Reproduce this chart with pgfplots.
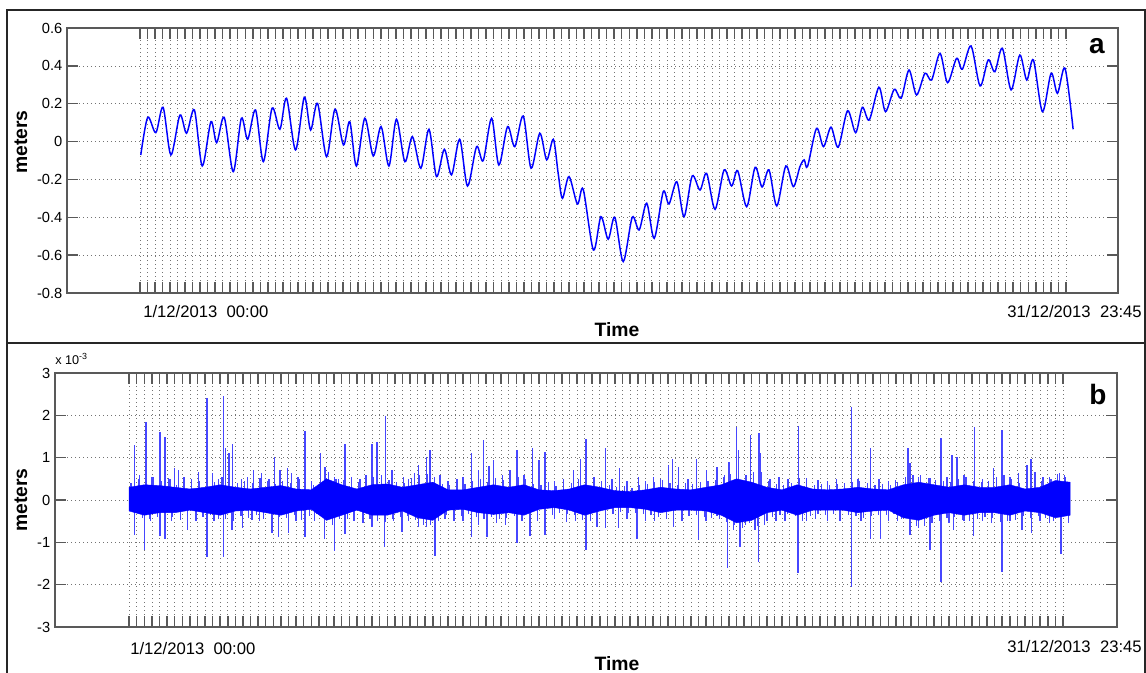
\documentclass[border=0pt]{standalone}
\usepackage{pgfplots}
\pgfplotsset{compat=1.18}
\usepackage{fontspec}
\setmainfont{Liberation Sans}
\definecolor{spk}{RGB}{70,70,255}
\begin{document}
\begin{tikzpicture}
\useasboundingbox (0,0) rectangle (859.5pt,504.75pt);
\pgfplotsset{
 panel/.style={
  scale only axis,
  anchor=south west,
  axis line style={draw=black!65, line width=0.9pt},
  tick style={draw=black!65, line width=1.1pt},
  major tick length=8pt,
  tick align=inside,
  xtick={0,0.25,...,30.75},
  xticklabels={},
  grid=major,
  major grid style={draw=black!55, line width=0.5pt, dash pattern=on 0.6pt off 2.4pt},
  yticklabel style={font=\fontsize{11}{13}\selectfont, text=black},
  clip=true,
 }
}
% frames
\draw[black!85, line width=1.1pt] (5.25pt,247.5pt) rectangle (858.75pt,497.25pt);
\draw[black!85, line width=1.1pt] (5.25pt,0pt) -- (5.25pt,247.5pt) -- (858.75pt,247.5pt) -- (858.75pt,0pt);

% ---------------- panel a
\begin{axis}[panel,
  at={(50.25pt,285pt)},
  width=788.25pt, height=198.75pt,
  xmin=-2.42, xmax=32.48, ymin=-0.8, ymax=0.6,
  ytick={-0.8,-0.6,-0.4,-0.2,0,0.2,0.4,0.6},
  yticklabels={-0.8,-0.6,-0.4,-0.2,0,0.2,0.4,0.6},
]
\addplot[blue, line width=1.1pt, smooth, no marks] coordinates {
(0.03,-0.071) (0.26,0.128) (0.53,0.047) (0.77,0.181) (1.03,-0.071) (1.33,0.140) (1.55,0.044) (1.81,0.167) (2.07,-0.129) (2.36,0.105) (2.55,-0.006) (2.80,0.128) (3.10,-0.159) (3.37,0.123) (3.58,0.012) (3.84,0.167) (4.10,-0.106) (4.39,0.176) (4.65,0.065) (4.87,0.229) (5.17,-0.044) (5.46,0.234) (5.67,0.061) (5.90,0.202) (6.20,-0.080) (6.48,0.171) (6.76,-0.018) (6.97,0.105) (7.19,-0.129) (7.47,0.123) (7.75,-0.076) (8.01,0.079) (8.27,-0.129) (8.52,0.118) (8.80,-0.106) (9.05,0.026) (9.33,-0.141) (9.60,0.065) (9.85,-0.185) (10.11,-0.041) (10.35,-0.176) (10.62,0.012) (10.88,-0.235) (11.18,-0.027) (11.40,-0.101) (11.68,0.123) (11.92,-0.124) (12.21,0.079) (12.45,-0.027) (12.73,0.135) (12.99,-0.141) (13.28,0.044) (13.51,-0.097) (13.73,0.012) (13.89,-0.168) (14.03,-0.300) (14.25,-0.185) (14.53,-0.330) (14.72,-0.252) (15.06,-0.573) (15.31,-0.397) (15.55,-0.516) (15.77,-0.400) (16.05,-0.634) (16.35,-0.400) (16.58,-0.467) (16.83,-0.326) (17.08,-0.511) (17.38,-0.265) (17.57,-0.330) (17.83,-0.212) (18.07,-0.397) (18.34,-0.182) (18.60,-0.256) (18.82,-0.168) (19.10,-0.358) (19.40,-0.150) (19.65,-0.235) (19.85,-0.154) (20.15,-0.344) (20.43,-0.136) (20.66,-0.240) (20.89,-0.150) (21.15,-0.340) (21.45,-0.129) (21.70,-0.238) (21.92,-0.132) (22.06,-0.097) (22.17,-0.132) (22.47,0.070) (22.70,-0.027) (22.95,0.076) (23.19,-0.030) (23.50,0.163) (23.77,0.047) (23.99,0.181) (24.22,0.114) (24.54,0.287) (24.76,0.158) (25.05,0.276) (25.28,0.229) (25.54,0.378) (25.79,0.246) (26.07,0.361) (26.29,0.325) (26.57,0.466) (26.82,0.311) (27.12,0.440) (27.31,0.382) (27.60,0.505) (27.90,0.294) (28.17,0.431) (28.39,0.369) (28.64,0.493) (28.93,0.273) (29.22,0.457) (29.45,0.325) (29.67,0.431) (29.97,0.158) (30.26,0.361) (30.47,0.255) (30.72,0.387) (30.99,0.065)
};
\end{axis}

% ---------------- panel b
\begin{axis}[panel,
  at={(41.25pt,34.5pt)},
  width=796.5pt, height=190.5pt,
  xmin=-2.44, xmax=32.53, ymin=-3, ymax=3,
  ytick={-3,-2,-1,0,1,2,3},
  yticklabels={-3,-2,-1,0,1,2,3},
]
% small fluctuations, 8 per day
\addplot[ycomb, spk, line width=0.9pt, no marks] table[row sep=\\, header=false, x expr=\coordindex*0.125+0.06, y index=0] {
0.40\\ -0.35\\ 0.50\\ -0.42\\ 0.38\\ -0.45\\ 0.55\\ -0.40\\
0.45\\ -0.38\\ 0.52\\ -0.40\\ 0.36\\ -0.48\\ 0.42\\ -0.35\\
0.38\\ -0.33\\ 0.45\\ -0.40\\ 0.50\\ -0.36\\ 0.42\\ -0.45\\
0.55\\ -0.45\\ 0.48\\ -0.50\\ 0.40\\ -0.38\\ 0.45\\ -0.42\\
0.40\\ -0.36\\ 0.52\\ -0.45\\ 0.44\\ -0.50\\ 0.38\\ -0.40\\
0.46\\ -0.42\\ 0.40\\ -0.36\\ 0.55\\ -0.48\\ 0.42\\ -0.38\\
0.35\\ -0.32\\ 0.60\\ -0.55\\ 0.65\\ -0.58\\ 0.50\\ -0.45\\
0.48\\ -0.44\\ 0.40\\ -0.36\\ 0.42\\ -0.38\\ 0.50\\ -0.46\\
0.55\\ -0.50\\ 0.60\\ -0.52\\ 0.48\\ -0.45\\ 0.42\\ -0.40\\
0.40\\ -0.38\\ 0.52\\ -0.48\\ 0.60\\ -0.58\\ 0.62\\ -0.60\\
0.55\\ -0.50\\ 0.38\\ -0.35\\ 0.35\\ -0.32\\ 0.40\\ -0.38\\
0.38\\ -0.34\\ 0.45\\ -0.40\\ 0.50\\ -0.44\\ 0.42\\ -0.40\\
0.52\\ -0.45\\ 0.48\\ -0.42\\ 0.40\\ -0.38\\ 0.55\\ -0.50\\
0.50\\ -0.46\\ 0.38\\ -0.32\\ 0.35\\ -0.30\\ 0.42\\ -0.36\\
0.32\\ -0.30\\ 0.36\\ -0.32\\ 0.40\\ -0.36\\ 0.50\\ -0.48\\
0.55\\ -0.50\\ 0.42\\ -0.38\\ 0.45\\ -0.40\\ 0.36\\ -0.32\\
0.30\\ -0.28\\ 0.33\\ -0.30\\ 0.28\\ -0.30\\ 0.36\\ -0.34\\
0.38\\ -0.35\\ 0.42\\ -0.40\\ 0.48\\ -0.44\\ 0.40\\ -0.36\\
0.36\\ -0.34\\ 0.40\\ -0.38\\ 0.38\\ -0.36\\ 0.42\\ -0.40\\
0.45\\ -0.42\\ 0.48\\ -0.46\\ 0.55\\ -0.52\\ 0.62\\ -0.60\\
0.70\\ -0.65\\ 0.58\\ -0.55\\ 0.60\\ -0.62\\ 0.65\\ -0.58\\
0.45\\ -0.40\\ 0.38\\ -0.35\\ 0.36\\ -0.34\\ 0.40\\ -0.38\\
0.52\\ -0.50\\ 0.42\\ -0.38\\ 0.36\\ -0.34\\ 0.38\\ -0.35\\
0.35\\ -0.33\\ 0.38\\ -0.36\\ 0.40\\ -0.35\\ 0.42\\ -0.38\\
0.45\\ -0.42\\ 0.40\\ -0.38\\ 0.36\\ -0.35\\ 0.38\\ -0.36\\
0.36\\ -0.34\\ 0.42\\ -0.45\\ 0.55\\ -0.58\\ 0.60\\ -0.62\\
0.58\\ -0.62\\ 0.52\\ -0.55\\ 0.48\\ -0.50\\ 0.45\\ -0.42\\
0.42\\ -0.40\\ 0.50\\ -0.48\\ 0.55\\ -0.50\\ 0.46\\ -0.44\\
0.42\\ -0.40\\ 0.45\\ -0.42\\ 0.55\\ -0.52\\ 0.58\\ -0.50\\
0.50\\ -0.48\\ 0.40\\ -0.38\\ 0.45\\ -0.42\\ 0.40\\ -0.38\\
0.45\\ -0.42\\ 0.55\\ -0.50\\ 0.62\\ -0.55\\ 0.58\\ -0.50\\
};
% positive spikes
\addplot[ycomb, spk, line width=1.15pt, no marks] coordinates {
(0.18,1.30) (0.35,0.60) (0.55,1.85) (0.75,0.55) (1.02,1.61) (1.19,1.48) (1.35,0.50) (1.49,0.75) (1.62,0.71) (1.80,0.55) (2.05,0.50) (2.28,0.67) (2.56,2.40) (2.75,0.63) (2.95,0.50) (3.11,2.46) (3.18,1.22) (3.29,1.10) (3.40,1.32) (3.70,0.50) (3.90,0.55) (4.09,0.71) (4.36,0.63) (4.60,0.50) (4.79,1.02) (4.97,0.71) (5.22,0.75) (5.35,0.63) (5.60,0.50) (5.80,1.64) (6.00,0.45) (6.31,1.10) (6.45,0.79) (6.76,0.55) (6.90,0.50) (7.11,1.32) (7.33,0.55) (7.60,0.50) (7.80,0.60) (7.99,1.32) (8.16,1.38) (8.45,1.98) (8.65,0.71) (9.03,0.55) (9.20,0.50) (9.39,0.63) (9.53,0.83) (9.80,1.02) (9.91,1.18) (10.24,0.59) (10.50,0.45) (10.80,0.50) (11.00,0.55) (11.28,1.10) (11.50,0.70) (11.67,1.42) (11.85,0.80) (12.00,0.94) (12.30,0.60) (12.55,0.70) (12.77,1.18) (13.00,0.60) (13.29,1.24) (13.50,0.94) (13.70,1.14) (14.00,0.45) (14.30,0.50) (14.63,0.71) (14.87,0.98) (15.05,1.43) (15.30,0.55) (15.68,1.24) (15.90,0.50) (16.15,0.75) (16.40,0.45) (16.77,0.55) (17.00,0.45) (17.26,0.55) (17.50,0.50) (17.76,0.83) (17.90,0.98) (18.09,0.79) (18.40,0.50) (18.69,0.98) (19.02,0.72) (19.35,0.77) (19.60,0.60) (19.75,0.90) (20.00,1.72) (20.06,1.18) (20.46,1.54) (20.56,0.67) (20.75,1.59) (20.78,1.10) (21.10,0.50) (21.40,0.55) (21.70,0.50) (22.04,1.75) (22.30,0.51) (22.68,0.47) (23.00,0.45) (23.30,0.50) (23.78,2.19) (24.00,0.50) (24.41,1.24) (24.70,0.50) (25.00,0.45) (25.23,0.47) (25.64,1.24) (25.72,0.87) (26.00,0.55) (26.38,0.51) (26.74,1.46) (26.93,0.55) (27.09,1.06) (27.26,1.02) (27.50,0.60) (27.84,1.72) (28.10,0.50) (28.46,0.75) (28.74,1.65) (29.00,0.55) (29.29,0.63) (29.56,0.83) (29.70,0.98) (29.83,0.67) (30.10,0.55) (30.35,0.50) (30.63,0.63) (30.83,0.55)
};
% negative spikes
\addplot[ycomb, spk, line width=1.15pt, no marks] coordinates {
(0.18,-0.83) (0.50,-1.18) (0.70,-0.50) (1.02,-0.85) (1.19,-0.93) (1.40,-0.50) (1.93,-0.71) (2.20,-0.50) (2.56,-1.34) (2.80,-0.50) (3.11,-1.34) (3.38,-0.71) (3.73,-0.65) (4.04,-0.47) (4.30,-0.50) (4.70,-0.79) (4.92,-0.87) (5.25,-0.79) (5.50,-0.50) (5.80,-0.87) (6.10,-0.50) (6.43,-0.91) (6.76,-1.20) (7.11,-0.80) (7.40,-0.50) (7.70,-0.55) (7.99,-0.63) (8.41,-1.10) (8.70,-0.50) (8.98,-0.75) (9.20,-0.50) (9.53,-0.63) (9.80,-0.63) (10.08,-1.32) (10.40,-0.45) (10.70,-0.50) (11.00,-0.50) (11.28,-0.87) (11.50,-0.60) (11.78,-0.87) (12.10,-0.55) (12.40,-0.60) (12.77,-1.02) (13.20,-0.85) (13.45,-0.50) (13.70,-0.83) (14.00,-0.45) (14.41,-0.51) (14.70,-0.50) (15.05,-1.17) (15.40,-0.63) (15.68,-0.67) (16.11,-0.67) (16.40,-0.45) (16.72,-0.91) (17.00,-0.50) (17.30,-0.50) (17.92,-0.63) (18.20,-0.50) (18.75,-0.94) (19.00,-0.50) (19.35,-0.38) (19.70,-1.61) (19.90,-0.70) (20.12,-1.12) (20.30,-0.60) (20.61,-0.71) (20.72,-1.46) (21.00,-0.50) (21.30,-0.50) (21.60,-0.50) (22.02,-1.72) (22.30,-0.50) (22.60,-0.45) (23.00,-0.50) (23.40,-0.50) (23.78,-2.05) (24.10,-0.50) (24.41,-0.93) (24.74,-0.91) (25.00,-0.50) (25.30,-0.50) (25.72,-0.83) (26.00,-0.65) (26.38,-1.18) (26.74,-1.93) (27.00,-0.55) (27.14,-0.71) (27.50,-0.50) (27.80,-0.85) (28.10,-0.50) (28.40,-0.55) (28.74,-1.69) (29.00,-0.50) (29.40,-0.71) (29.72,-0.79) (30.00,-0.50) (30.30,-0.55) (30.69,-1.28) (30.94,-0.55)
};
% dense band (envelope of the high-frequency signal)
\addplot[blue, fill=blue, line width=0.3pt, no marks] coordinates {
(0.0,0.30) (0.5,0.36) (1.0,0.34) (1.5,0.30) (2.0,0.26) (2.5,0.30) (3.0,0.36) (3.5,0.30) (4.0,0.26) (4.5,0.30) (5.0,0.34) (5.5,0.26) (6.0,0.24) (6.5,0.50) (7.0,0.36) (7.5,0.26) (8.0,0.36) (8.5,0.38) (9.0,0.30) (9.5,0.36) (10.0,0.42) (10.5,0.24) (11.0,0.24) (11.5,0.30) (12.0,0.36) (12.5,0.30) (13.0,0.36) (13.5,0.24) (14.0,0.22) (14.5,0.26) (15.0,0.36) (15.5,0.30) (16.0,0.22) (16.5,0.20) (17.0,0.24) (17.5,0.30) (18.0,0.26) (18.5,0.24) (19.0,0.30) (19.5,0.36) (20.0,0.50) (20.5,0.42) (21.0,0.30) (21.5,0.24) (22.0,0.36) (22.5,0.26) (23.0,0.24) (23.5,0.26) (24.0,0.30) (24.5,0.26) (25.0,0.24) (25.5,0.36) (26.0,0.42) (26.5,0.36) (27.0,0.30) (27.5,0.36) (28.0,0.30) (28.5,0.30) (29.0,0.36) (29.5,0.26) (30.0,0.30) (30.5,0.46) (30.99,0.42)
(30.99,-0.36) (30.5,-0.42) (30.0,-0.30) (29.5,-0.26) (29.0,-0.36) (28.5,-0.30) (28.0,-0.30) (27.5,-0.36) (27.0,-0.30) (26.5,-0.36) (26.0,-0.48) (25.5,-0.42) (25.0,-0.24) (24.5,-0.26) (24.0,-0.30) (23.5,-0.24) (23.0,-0.24) (22.5,-0.24) (22.0,-0.36) (21.5,-0.24) (21.0,-0.30) (20.5,-0.48) (20.0,-0.54) (19.5,-0.36) (19.0,-0.26) (18.5,-0.24) (18.0,-0.24) (17.5,-0.30) (17.0,-0.22) (16.5,-0.18) (16.0,-0.18) (15.5,-0.26) (15.0,-0.36) (14.5,-0.24) (14.0,-0.18) (13.5,-0.22) (13.0,-0.36) (12.5,-0.30) (12.0,-0.34) (11.5,-0.30) (11.0,-0.22) (10.5,-0.24) (10.0,-0.48) (9.5,-0.42) (9.0,-0.26) (8.5,-0.36) (8.0,-0.36) (7.5,-0.24) (7.0,-0.36) (6.5,-0.48) (6.0,-0.22) (5.5,-0.26) (5.0,-0.36) (4.5,-0.30) (4.0,-0.24) (3.5,-0.26) (3.0,-0.36) (2.5,-0.30) (2.0,-0.24) (1.5,-0.30) (1.0,-0.30) (0.5,-0.36) (0.0,-0.26)
} -- cycle;
\end{axis}

% texts
\node[anchor=west, font=\fontsize{12.5}{14}\selectfont, inner sep=0pt] at (107.25pt,270.75pt) {1/12/2013\ \ 00:00};
\node[anchor=east, font=\fontsize{12.5}{14}\selectfont, inner sep=0pt] at (856.5pt,270.75pt) {31/12/2013\ \ 23:45};
\node[anchor=west, font=\fontsize{12.5}{14}\selectfont, inner sep=0pt] at (97.5pt,18pt) {1/12/2013\ \ 00:00};
\node[anchor=east, font=\fontsize{12.5}{14}\selectfont, inner sep=0pt] at (856.5pt,19.5pt) {31/12/2013\ \ 23:45};
\node[font=\fontsize{14.5}{16}\selectfont\bfseries, inner sep=0pt] at (462.75pt,257.25pt) {Time};
\node[font=\fontsize{14.5}{16}\selectfont\bfseries, inner sep=0pt] at (462.75pt,6.75pt) {Time};
\node[font=\fontsize{14.5}{16}\selectfont\bfseries, inner sep=0pt, rotate=90] at (15.75pt,398.25pt) {meters};
\node[font=\fontsize{14.5}{16}\selectfont\bfseries, inner sep=0pt, rotate=90] at (15.75pt,129.75pt) {meters};
\node[font=\fontsize{21}{24}\selectfont\bfseries, inner sep=0pt] at (822.75pt,470.25pt) {a};
\node[font=\fontsize{21}{24}\selectfont\bfseries, inner sep=0pt] at (823.5pt,208.5pt) {b};
\node[anchor=base west, font=\fontsize{9.5}{11}\selectfont, inner sep=0pt] at (41.25pt,231pt) {x 10\textsuperscript{-3}};
\end{tikzpicture}
\end{document}
